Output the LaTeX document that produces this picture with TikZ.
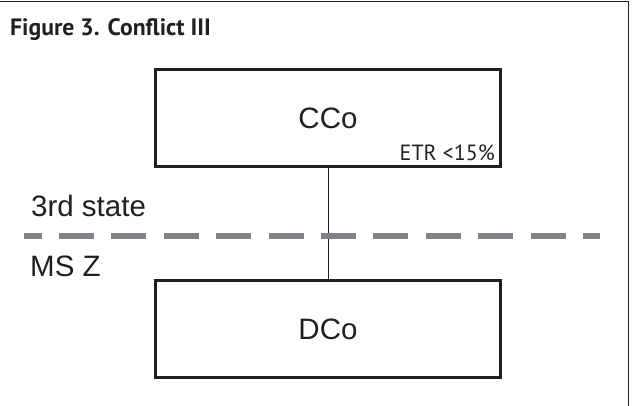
\documentclass[tikz,border=0pt]{standalone}
\usepackage{fontspec}
\setmainfont{Liberation Sans}
\newfontfamily\captionfont{PT Sans}

\definecolor{inkblack}{HTML}{231F20}
\definecolor{bordergray}{HTML}{808285}

\tikzset{
    statebox/.style={draw=inkblack, line width=3pt, minimum width=345pt,
        minimum height=97pt, inner sep=0pt, text=inkblack,
        font=\fontsize{29.5}{30}\selectfont},
    arealabel/.style={anchor=base west, inner sep=0pt, text=inkblack,
        font=\fontsize{29.5}{30}\selectfont},
}

\begin{document}
\begin{tikzpicture}[x=1pt, y=-1pt]
    \useasboundingbox (0,0) rectangle (633,406);

    % Frame (top and right only)
    \draw[inkblack, line width=1pt] (0,2) -- (628,2) -- (628,406);

    % Title
    \node[anchor=base west, inner sep=0pt, text=inkblack,
        font=\captionfont\bfseries\fontsize{23.7}{25}\selectfont]
        (title) at (10,36) {Figure 3. Conflict III};

    % Companies
    \node[statebox] (cco) at (328,118.5) {CCo};
    \node[statebox] (dco) at (328,329.5) {DCo};
    \node[anchor=base east, inner sep=0pt, xshift=-7pt, yshift=8pt,
        text=inkblack, font=\captionfont\fontsize{22}{24}\selectfont]
        (etr) at (cco.south east) {ETR <15\%};

    % Link between the two
    \draw[inkblack, line width=1pt] (cco) -- (dco);

    % Border between the states
    \draw[bordergray, line width=5.5pt, dash pattern=on 35pt off 17.4pt,
        dash phase=17.5pt] (24,236) -- (600,236);
    \node[arealabel] (third) at (31,217) {3rd state};
    \node[arealabel] (msz) at (30,277) {MS Z};
\end{tikzpicture}
\end{document}
